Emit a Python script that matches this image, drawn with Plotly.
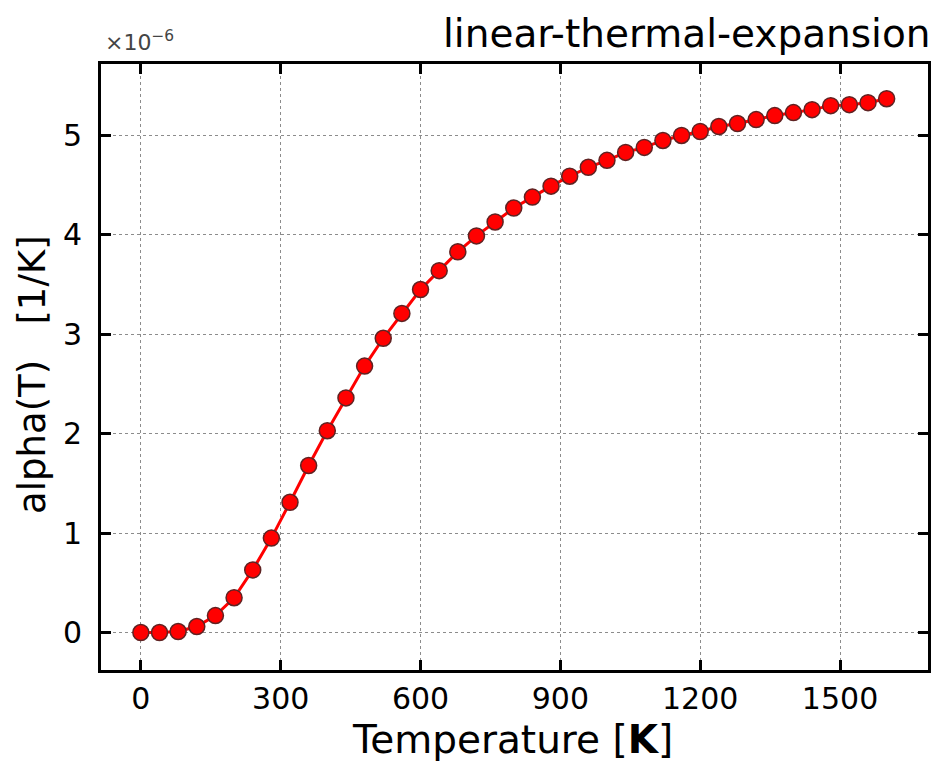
import plotly.graph_objects as go

# Data (temperature in K, alpha in units of 1e-6 1/K)
temperature = [0, 40, 80, 120, 160, 200, 240, 280, 320, 360, 400, 440, 480, 520, 560, 600,
               640, 680, 720, 760, 800, 840, 880, 920, 960, 1000, 1040, 1080, 1120, 1160,
               1200, 1240, 1280, 1320, 1360, 1400, 1440, 1480, 1520, 1560, 1600]
alpha_e6 = [0.00, 0.00, 0.01, 0.06, 0.17, 0.35, 0.63, 0.95, 1.31, 1.68, 2.03, 2.36, 2.68,
            2.96, 3.21, 3.45, 3.64, 3.83, 3.99, 4.13, 4.27, 4.38, 4.49, 4.59, 4.68, 4.75,
            4.83, 4.88, 4.95, 5.00, 5.04, 5.09, 5.12, 5.16, 5.20, 5.23, 5.26, 5.30, 5.31,
            5.33, 5.37]
x_ticks = [0, 300, 600, 900, 1200, 1500]
y_ticks = [0, 1, 2, 3, 4, 5]

FONT = "DejaVu Sans"

fig = go.Figure()
fig.add_trace(go.Scatter(
    x=temperature, y=alpha_e6, mode="lines+markers",
    line=dict(color="#ff0000", width=3),
    marker=dict(size=16, color="#ff0000", line=dict(color="rgb(95,35,35)", width=1.5)),
    showlegend=False,
))

axis_common = dict(
    showline=True, linecolor="black", linewidth=3, mirror="allticks",
    ticks="inside", ticklen=10, tickwidth=3, tickcolor="black",
    showgrid=True, gridcolor="#8c8c8c", gridwidth=1, griddash="dot",
    zeroline=False,
    tickfont=dict(family=FONT, size=30, color="black"),
)

fig.update_xaxes(range=[-85.5, 1688.7], tickvals=x_ticks,
                 ticklabelstandoff=0, **axis_common)
fig.update_yaxes(range=[-0.377, 5.719], tickvals=y_ticks,
                 ticklabelstandoff=10, **axis_common)

fig.update_layout(
    width=934, height=763,
    margin=dict(l=101, r=3, t=64, b=93),
    paper_bgcolor="white", plot_bgcolor="white",
    font=dict(family=FONT, color="black"),
    annotations=[
        dict(text="linear-thermal-expansion", xref="paper", yref="paper",
             x=1, y=1, xanchor="right", yanchor="bottom", yshift=6, xshift=5,
             showarrow=False, font=dict(family=FONT, size=39, color="black")),
        dict(text="×10<sup>−6</sup>", xref="paper", yref="paper",
             x=0, y=1, xanchor="left", yanchor="bottom", yshift=7, xshift=2,
             showarrow=False, font=dict(family=FONT, size=22, color="#444444")),
        dict(text="Temperature [<b>K</b>]", xref="paper", yref="paper",
             x=0.5, y=0, xanchor="center", yanchor="middle", yshift=-69, xshift=-2,
             showarrow=False, font=dict(family=FONT, size=39, color="black")),
        dict(text="alpha(T)   [1/K]", xref="paper", yref="paper",
             x=0, y=0.487, xanchor="center", yanchor="middle", xshift=-68,
             textangle=-90,
             showarrow=False, font=dict(family=FONT, size=37, color="black")),
    ],
)

fig.write_html("out.html", config={"displayModeBar": False},
               post_script="document.body.style.margin='0';document.body.style.overflow='hidden';")
